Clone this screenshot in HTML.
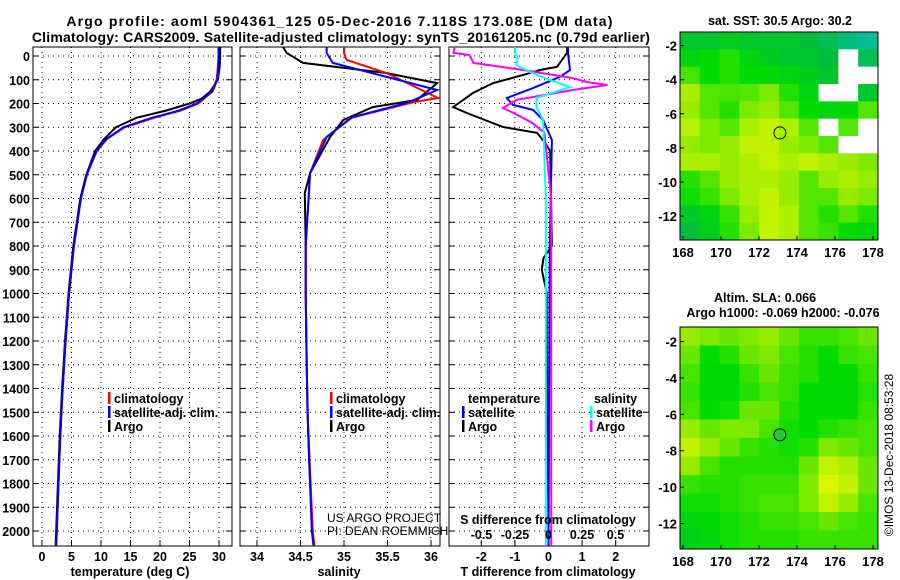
<!DOCTYPE html>
<html><head><meta charset="utf-8"><style>
body{margin:0;background:#fff}
svg{display:block;font-family:"Liberation Sans",sans-serif}
.b{font-weight:bold;font-size:14px}
</style></head><body>
<svg id="s" width="900" height="580" viewBox="0 0 900 580">
<text class="b" x="340" y="26" text-anchor="middle" letter-spacing="1.2">Argo profile: aoml 5904361_125 05-Dec-2016 7.118S 173.08E (DM data)</text>
<text class="b" x="341" y="42" text-anchor="middle" letter-spacing="0.2">Climatology: CARS2009. Satellite-adjusted climatology: synTS_20161205.nc (0.79d earlier)</text>
</svg>
<script>
// ---- data ----
const depthTicks=[0,100,200,300,400,500,600,700,800,900,1000,1100,1200,1300,1400,1500,1600,1700,1800,1900,2000];
const tempTicks=[0,5,10,15,20,25,30];
const salTicks=[34,34.5,35,35.5,36];
const salTickLabels=["34","34.5","35","35.5","36"];
const tdiffTicks=[-2,-1,0,1,2];
const sdiffTicks=[-0.5,-0.25,0,0.25,0.5];
const sdiffTickLabels=["-0.5","-0.25","0","0.25","0.5"];
const tArgoDepth=[-38,0,50,100,150,180,200,230,260,300,350,400,500,600,800,1000,1200,1400,1600,1800,2000,2060];
const tArgo=[30.2,30.2,30.1,29.8,28.5,27,25,21,16,12.5,10.5,9,7.5,6.5,5.3,4.5,3.9,3.4,3.0,2.7,2.4,2.3];
const tClimDepth=[-38,0,50,100,150,200,230,260,300,350,400,500,600,800,1000,1200,1400,1600,1800,2000,2060];
const tClim=[29.9,29.9,29.8,29.6,28.8,26.5,23.5,19,14,11,9.3,7.6,6.6,5.4,4.6,4.0,3.5,3.1,2.8,2.5,2.4];
const tSat=[30.0,30.0,29.9,29.7,28.9,26.2,23.2,18.6,13.8,10.9,9.2,7.6,6.6,5.4,4.6,4.0,3.5,3.1,2.8,2.5,2.4];
const sArgoDepth=[-38,-13,29,72,114,185,215,270,341,493,577,800,1000,1300,1600,1800,2000,2060];
const sArgo=[34.30,34.34,34.53,35.49,36.07,35.84,35.33,34.99,34.84,34.61,34.55,34.56,34.56,34.57,34.59,34.61,34.64,34.65];
const sClimDepth=[-38,-13,17,72,177,194,262,354,493,800,1000,1500,2000,2060];
const sClim=[35.0,35.0,35.03,35.49,36.08,35.80,35.07,34.76,34.61,34.56,34.56,34.58,34.64,34.66];
const sSatDepth=[-38,-13,29,143,198,257,341,493,800,1000,1500,2000,2060];
const sSat=[34.8,34.8,34.87,36.07,35.72,35.1,34.8,34.61,34.56,34.56,34.58,34.63,34.65];
const dtArgoDepth=[-38,-13,46,59,72,114,156,215,240,299,324,366,400,800,850,900,1000,1200,2000,2060];
const dtArgo=[0.55,0.55,0.25,-0.25,-0.55,-1.65,-2.25,-2.84,-2.43,-1.35,-0.34,-0.1,0.05,0.1,-0.15,-0.2,-0.05,-0.05,0,0];
const dtSatDepth=[-38,-13,59,88,135,177,206,227,269,354,800,2000,2060];
const dtSat=[0.58,0.58,0.64,0.34,-0.46,-1.24,-1.06,-0.46,-0.16,0.1,0.04,0,0];
const dsArgoDepth=[-38,-13,-4,29,59,93,110,122,143,185,219,240,282,324,600,2000,2060];
const dsArgo=[-0.70,-0.71,-0.59,-0.56,-0.19,0.18,0.29,0.44,0.18,-0.24,-0.34,-0.26,-0.12,-0.03,0.02,0.02,0.02];
const dsSatDepth=[-38,-13,8,38,67,101,131,177,215,269,600,2000,2060];
const dsSat=[-0.25,-0.25,-0.23,-0.24,-0.14,0.01,0.16,-0.09,-0.09,-0.04,-0.02,-0.02,-0.02];
const lonTicks=[168,170,172,174,176,178];
const latTicks=[-2,-4,-6,-8,-10,-12];
const sstGrid=[
[0.35,0.35,0.4,0.35,0.35,0.35,0.3,0.25,0.15,0.1],
[0.45,0.5,0.55,0.45,0.4,0.35,0.35,0.3,-1,0.25],
[0.6,0.5,0.55,0.5,0.5,0.45,0.4,0.35,-1,-1],
[0.75,0.62,0.6,0.62,0.68,0.55,0.45,-1,-1,0.35],
[0.72,0.62,0.55,0.68,0.72,0.62,0.5,0.45,0.5,0.62],
[0.78,0.68,0.62,0.76,0.8,0.76,0.62,-1,0.62,-1],
[0.72,0.68,0.72,0.8,0.8,0.72,0.68,0.62,-1,-1],
[0.76,0.76,0.72,0.76,0.8,0.76,0.8,0.76,0.72,0.68],
[0.55,0.62,0.72,0.76,0.76,0.72,0.62,0.72,0.76,0.72],
[0.52,0.58,0.68,0.76,0.8,0.72,0.62,0.62,0.72,0.68],
[0.38,0.45,0.58,0.72,0.8,0.76,0.62,0.55,0.62,0.55],
[0.3,0.4,0.55,0.68,0.8,0.76,0.62,0.58,0.5,0.45]];
const slaGrid=[
[0.72,0.68,0.65,0.68,0.72,0.65,0.58,0.58,0.6,0.65],
[0.65,0.5,0.55,0.65,0.68,0.6,0.55,0.5,0.58,0.6],
[0.6,0.48,0.48,0.58,0.65,0.58,0.55,0.48,0.5,0.58],
[0.58,0.48,0.48,0.55,0.6,0.58,0.5,0.48,0.48,0.55],
[0.6,0.5,0.52,0.65,0.65,0.55,0.5,0.5,0.5,0.58],
[0.72,0.65,0.68,0.68,0.6,0.52,0.5,0.55,0.58,0.6],
[0.8,0.72,0.65,0.58,0.55,0.52,0.55,0.68,0.65,0.6],
[0.72,0.6,0.55,0.55,0.55,0.55,0.65,0.8,0.76,0.65],
[0.58,0.55,0.55,0.58,0.58,0.58,0.68,0.85,0.8,0.65],
[0.52,0.52,0.55,0.58,0.6,0.6,0.68,0.8,0.72,0.6],
[0.45,0.48,0.52,0.55,0.58,0.58,0.6,0.65,0.6,0.58],
[0.42,0.45,0.52,0.55,0.55,0.55,0.58,0.58,0.58,0.58]];

// ---- drawing ----
const S=document.getElementById('s'),NS='http://www.w3.org/2000/svg';
function mk(t,a,p){const e=document.createElementNS(NS,t);for(const k in a)e.setAttribute(k,a[k]);(p||S).appendChild(e);return e;}
function tx(x,y,s,o){const e=mk('text',Object.assign({x:x,y:y,'font-size':12.5,'font-weight':'bold'},o||{}));e.textContent=s;return e;}
const Y0=56,YS=0.2375,TOP=47,BOT=546;
const yD=d=>Y0+d*YS;
const panels=[{l:33,r:232,x:v=>42+v*5.9},{l:240,r:440,x:v=>257+(v-34)*87},{l:449,r:649,x:v=>548.5+v*33.6}];
const xS=v=>548.5+v*134;
panels.forEach((p,i)=>{
  const g=mk('g',{});
  
  
  depthTicks.forEach(d=>{const y=yD(d);
    mk('line',{x1:p.l,x2:p.r,y1:y,y2:y,stroke:'#000','stroke-dasharray':'1,4'},g);
    mk('line',{x1:p.l,x2:p.l+6,y1:y,y2:y,stroke:'#000'},g);
    mk('line',{x1:p.r-6,x2:p.r,y1:y,y2:y,stroke:'#000'},g);
    if(i==0){const t=tx(p.l-3,y+5,String(d),{'text-anchor':'end'});g.appendChild(t);
      }
  });
  const xt=i==0?tempTicks:i==1?salTicks:tdiffTicks;
  xt.forEach((v,j)=>{const x=p.x(v);
    mk('line',{x1:x,x2:x,y1:TOP,y2:BOT,stroke:'#000','stroke-dasharray':'1,4'},g);
    mk('line',{x1:x,x2:x,y1:BOT-6,y2:BOT,stroke:'#000'},g);
    const t=tx(x,561,i==1?salTickLabels[j]:String(v),{'text-anchor':'middle'});g.appendChild(t);
    
  });
  mk('rect',{x:p.l,y:TOP,width:p.r-p.l,height:BOT-TOP,fill:'none',stroke:'#000'},g);
});
function line(xf,ds,vs,c,name,w){
  const pts=ds.map((d,k)=>xf(vs[k]).toFixed(1)+','+yD(d).toFixed(1)).join(' ');
  const e=mk('polyline',{points:pts,fill:'none',stroke:c,'stroke-width':w||2});
  
  
}
line(panels[0].x,tArgoDepth,tArgo,'#000','temp-argo-line');
line(panels[0].x,tClimDepth,tClim,'#f00','temp-climatology-line');
line(panels[0].x,tClimDepth,tSat,'#00f','temp-satellite-line');
line(panels[1].x,sArgoDepth,sArgo,'#000','salinity-argo-line');
line(panels[1].x,sClimDepth,sClim,'#f00','salinity-climatology-line');
line(panels[1].x,sSatDepth,sSat,'#00f','salinity-satellite-line');
line(panels[2].x,dtArgoDepth,dtArgo,'#000','tdiff-argo-line');
line(panels[2].x,dtSatDepth,dtSat,'#00f','tdiff-satellite-line');
line(xS,dsArgoDepth,dsArgo,'#f0f','sdiff-argo-line');
line(xS,dsSatDepth,dsSat,'#0ff','sdiff-satellite-line');
// legends
function leg(x,y,c,s,name){mk('rect',{x:x,y:y-11,width:2.5,height:12,fill:c});
  const t=tx(x+6,y,s);}
leg(108,403,'#f00','climatology','legend-climatology');leg(108,417,'#00f','satellite-adj. clim.','legend-satellite');leg(108,431,'#000','Argo','legend-argo');
leg(330,403,'#f00','climatology','legend-climatology-2');leg(330,417,'#00f','satellite-adj. clim.','legend-satellite-2');leg(330,431,'#000','Argo','legend-argo-2');
tx(468,403,'temperature');tx(594,403,'salinity');
leg(462,417,'#00f','satellite','legend-t-satellite');leg(462,431,'#000','Argo','legend-t-argo');
leg(590,417,'#0ff','satellite','legend-s-satellite');leg(590,431,'#f0f','Argo','legend-s-argo');
tx(327,522,'US ARGO PROJECT',{'font-weight':'normal','font-size':12});
tx(327,535,'PI: DEAN ROEMMICH',{'font-weight':'normal','font-size':12});
tx(548,524,'S difference from climatology',{'text-anchor':'middle'});
sdiffTicks.forEach((v,j)=>{const t=tx(xS(v),539,sdiffTickLabels[j],{'text-anchor':'middle'});});
tx(130,576,'temperature (deg C)',{'text-anchor':'middle'});
tx(339,576,'salinity',{'text-anchor':'middle'});
tx(548,576,'T difference from climatology',{'text-anchor':'middle'});
// maps
function col(v){if(v<0)return '#fff';
  const st=[[0,[0,190,190]],[0.3,[0,190,60]],[0.5,[0,220,0]],[0.7,[140,235,0]],[0.85,[220,245,0]],[1,[255,170,0]]];
  for(let k=1;k<st.length;k++)if(v<=st[k][0]){const a=st[k-1],b=st[k],f=(v-a[0])/(b[0]-a[0]);
    return 'rgb('+a[1].map((c,m)=>Math.round(c+(b[1][m]-c)*f)).join(',')+')';}
  return 'rgb(255,170,0)';}
function map(grid,top,bot,name,fillc){
  const L=680,R=878,lx=v=>683+(v-168)*19;
  const ly=v=>top+((-v)-1.2)*((bot-top)/12.2);
  const g=mk('g',{});
  const cw=(R-L)/10,ch=(bot-top)/grid.length;
  grid.forEach((row,r)=>row.forEach((v,c)=>{const e=mk('rect',{x:L+c*cw,y:top+r*ch,width:cw+0.5,height:ch+0.5,fill:col(v)},g);
    }));
  mk('circle',{cx:lx(173.1),cy:ly(-7.12),r:6,fill:fillc?'#2c3':'none',stroke:'#000'},g);
  mk('rect',{x:L,y:top,width:R-L,height:bot-top,fill:'none',stroke:'#000'},g);
  lonTicks.forEach(v=>{mk('line',{x1:lx(v),x2:lx(v),y1:bot,y2:bot-4,stroke:'#000'},g);tx(lx(v),bot+17,String(v),{'text-anchor':'middle','font-size':13});});
  latTicks.forEach(v=>{mk('line',{x1:L,x2:L+4,y1:ly(v),y2:ly(v),stroke:'#000'},g);tx(L-3,ly(v)+5,String(v),{'text-anchor':'end','font-size':13});});
}
map(sstGrid,32,240,'sst-map',false);
map(slaGrid,327,549,'sla-map',true);
tx(780,25,'sat. SST: 30.5 Argo: 30.2',{'text-anchor':'middle'});
tx(765,302,'Altim. SLA: 0.066',{'text-anchor':'middle'});
tx(783,317,'Argo h1000: -0.069 h2000: -0.076',{'text-anchor':'middle'});
const cr=tx(0,0,'©IMOS 13-Dec-2018 08:53:28',{'font-weight':'normal','font-size':12,'text-anchor':'middle',transform:'translate(893,455) rotate(-90)'});

</script>
</body></html>
